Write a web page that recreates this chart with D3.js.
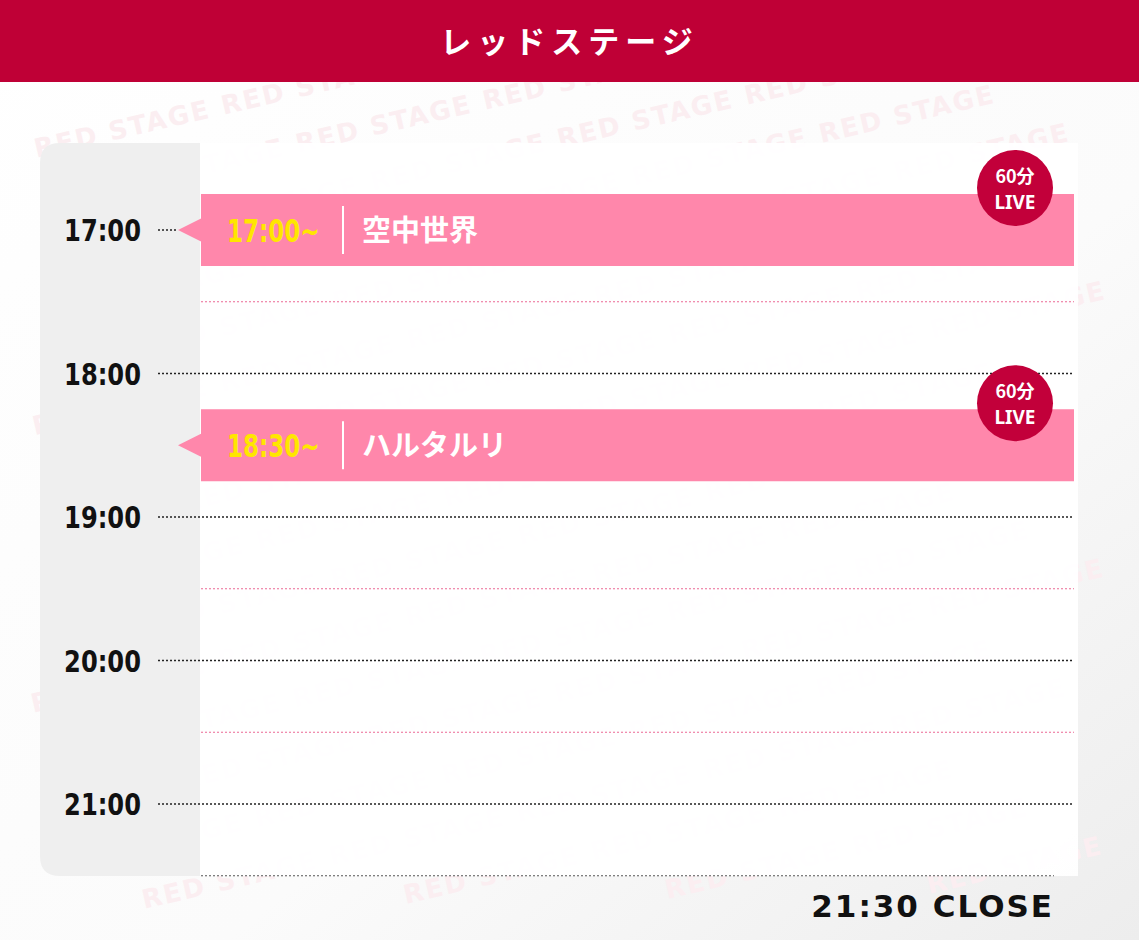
<!DOCTYPE html>
<html><head><meta charset="utf-8">
<script src="https://cdn.jsdelivr.net/npm/d3@7"></script>
<style>body{margin:0;background:#fff;}svg{display:block}</style>
</head><body>
<script>
const title = "レッドステージ";
const hourTicks = [17, 18, 19, 20, 21];
const hourLabels = ["17:00", "18:00", "19:00", "20:00", "21:00"];
const halfTicks = [17.5, 19.5, 20.5];
const acts = ["空中世界", "ハルタルリ"];
const actStarts = [17, 18.5];
const actStartLabels = ["17:00~", "18:30~"];
const actDurations = ["60分", "60分"];
const closeTime = 21.5;
const closeLabel = "21:30 CLOSE";

const W = 1139, H = 940;
const svg = d3.select("body").append("svg").attr("width", W).attr("height", H);
const y = d3.scaleLinear().domain([17, 21]).range([230, 804]);
const sans = "'DejaVu Sans',sans-serif";
const jp = "'Noto Sans CJK JP',sans-serif";

const defs = svg.append("defs");
const g = defs.append("linearGradient").attr("id","bg").attr("x1",0).attr("y1",0).attr("x2",1).attr("y2",1);
g.append("stop").attr("offset",0).attr("stop-color","#ffffff");
g.append("stop").attr("offset",0.6).attr("stop-color","#fbfbfb");
g.append("stop").attr("offset",1).attr("stop-color","#ededed");
svg.append("rect").attr("width",W).attr("height",H).attr("fill","url(#bg)");

const ang = -13 * Math.PI/180, wordW = 180;
const wm = svg.append("g");
for (let r = -10; r < 30; r++) {
  for (let c = -10; c < 14; c++) {
    const lx = c*(wordW+12) + ((r%3+3)%3)*64, ly = r*54;
    const cx = lx*Math.cos(ang) - ly*Math.sin(ang);
    const cy = lx*Math.sin(ang) + ly*Math.cos(ang);
    const rx = cx + wordW*Math.cos(ang), ry = cy + wordW*Math.sin(ang);
    if (cx < 2 || rx > W - 2 || ry - 25 < 0 || cy + 4 > H) continue;
    wm.append("text").attr("transform",`translate(${cx},${cy}) rotate(-13)`)
      .attr("font-family",sans).attr("font-weight","bold").attr("font-size",26)
      .attr("letter-spacing",2).attr("fill","#fbeef1").text("RED STAGE");
  }
}

svg.append("rect").attr("width",W).attr("height",82).attr("fill","#bf0036");
svg.append("text").attr("x",W/2).attr("y",53).attr("text-anchor","middle")
  .attr("font-family",jp).attr("font-weight","bold").attr("font-size",31)
  .attr("letter-spacing",6).attr("fill","#fff").text(title);

svg.append("rect").attr("x",200).attr("y",143).attr("width",878).attr("height",733).attr("fill","#ffffff").attr("opacity",0.94);
svg.append("path").attr("d","M200,143 V876 H60 Q40,876 40,856 V163 Q40,143 60,143 Z").attr("fill","#efefef");

svg.selectAll(".half").data(halfTicks).join("line")
  .attr("x1",201).attr("x2",1074).attr("y1",d=>y(d)).attr("y2",d=>y(d))
  .attr("stroke","#ec6a95").attr("stroke-width",1.2).attr("stroke-dasharray","2,2");
svg.append("line").attr("x1",201).attr("x2",1054).attr("y1",y(closeTime)).attr("y2",y(closeTime))
  .attr("stroke","#555").attr("stroke-width",1.2).attr("stroke-dasharray","2,2");

svg.selectAll(".hr").data(hourTicks).join("line")
  .attr("x1",158).attr("x2",d=> d===17 ? 176 : 1074).attr("y1",d=>y(d)).attr("y2",d=>y(d))
  .attr("stroke","#222").attr("stroke-width",1.3).attr("stroke-dasharray","2,2");
svg.selectAll(".hl").data(hourLabels).join("text")
  .attr("transform",(d,i)=>`translate(141,${y(hourTicks[i])+11}) scale(0.78,1)`).attr("text-anchor","end")
  .attr("font-family",sans).attr("font-weight","bold").attr("font-size",31).attr("fill","#111").text(d=>d);

const bh = 72;
acts.forEach((name,i)=>{
  const cy = y(actStarts[i]);
  const gg = svg.append("g");
  gg.append("rect").attr("x",201).attr("y",cy-bh/2).attr("width",873).attr("height",bh).attr("fill","#ff87ab");
  gg.append("path").attr("d",`M202,${cy-12} L178,${cy} L202,${cy+12} Z`).attr("fill","#ff87ab");
  gg.append("text").attr("transform",`translate(227,${cy+12}) scale(0.72,1)`).attr("font-family",sans).attr("font-weight","bold")
    .attr("font-size",32).attr("fill","#ffe600").text(actStartLabels[i]);
  gg.append("line").attr("x1",343).attr("x2",343).attr("y1",cy-24).attr("y2",cy+24).attr("stroke","#fff").attr("stroke-width",2);
  gg.append("text").attr("x",362).attr("y",cy+11).attr("font-family",jp).attr("font-weight","bold")
    .attr("font-size",29).attr("fill","#fff").text(name);
  const bx = 1015, by = cy-bh/2-6;
  gg.append("circle").attr("cx",bx).attr("cy",by).attr("r",38).attr("fill","#c2003a");
  gg.append("text").attr("x",bx).attr("y",by-5).attr("text-anchor","middle").attr("font-family",jp)
    .attr("font-weight","bold").attr("font-size",18).attr("fill","#fff").text(actDurations[i]);
  gg.append("text").attr("x",bx).attr("y",by+21).attr("text-anchor","middle").attr("font-family","'Noto Sans',sans-serif")
    .attr("font-weight","bold").attr("font-size",19).attr("fill","#fff").text("LIVE");
});

svg.append("text").attr("x",1054).attr("y",917).attr("text-anchor","end")
  .attr("font-family",sans).attr("font-weight","bold").attr("font-size",31)
  .attr("letter-spacing",2).attr("fill","#111").text(closeLabel);
</script>
</body></html>
